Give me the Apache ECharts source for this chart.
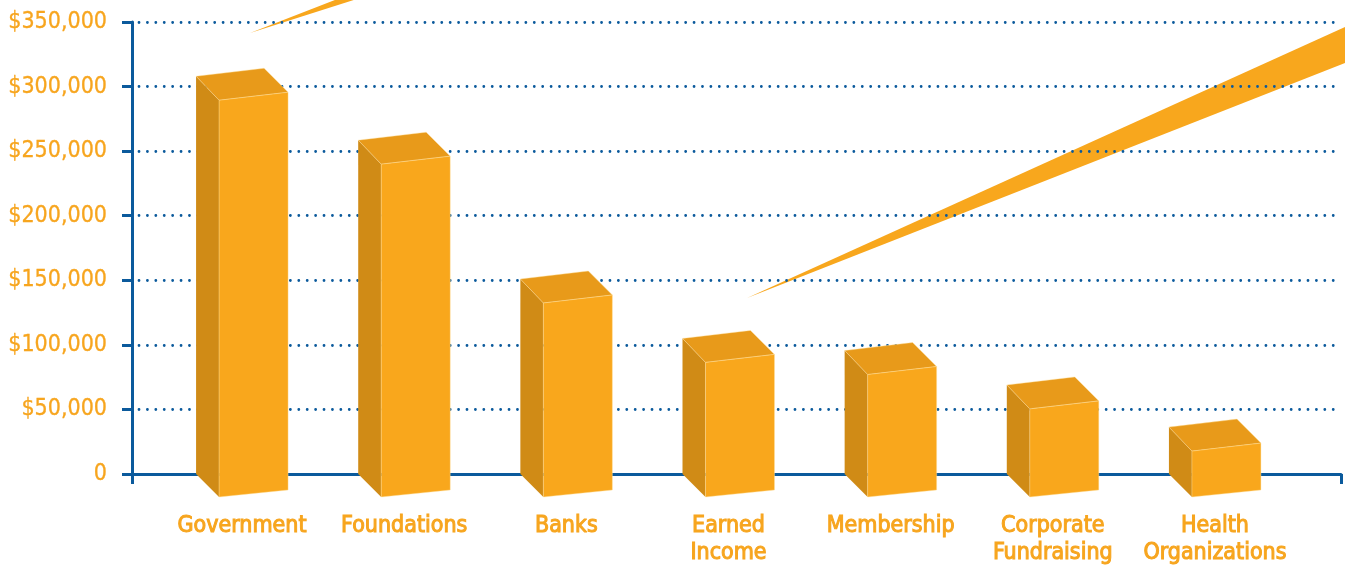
<!DOCTYPE html>
<html>
<head>
<meta charset="utf-8">
<title>Funding sources</title>
<script src="https://cdn.jsdelivr.net/npm/echarts@6/dist/echarts.min.js"></script>
<style>
  html, body { margin: 0; padding: 0; background: #ffffff; }
  #chart { width: 1345px; height: 566px; }
</style>
</head>
<body>
<div id="chart"></div>
<script>
  // data
  const categories = ['Government', 'Foundations', 'Banks', 'Earned\nIncome', 'Membership', 'Corporate\nFundraising', 'Health\nOrganizations']
  const amounts = [308000, 258500, 151000, 105000, 95600, 69000, 36300]
  const yTickLabels = ['0', '$50,000', '$100,000', '$150,000', '$200,000', '$250,000', '$300,000', '$350,000']
  const yStep = 50000
  const yMax = 350000

  const orange = '#F7A51E'
  const blue = '#0B5A9C'
  const font = "'DejaVu Sans Condensed', 'Liberation Sans Narrow', sans-serif"

  // 3d box: back face sits on the value, front face shifted down-right
  function renderBox(params, api) {
    const top = api.coord([api.value(0), api.value(1)])
    const base = api.coord([api.value(0), 0])
    const cx = top[0]
    const yt = top[1]
    const yb = base[1]
    const edge = 'rgba(255,225,160,0.7)'
    return {
      type: 'group',
      children: [
        {
          type: 'polygon',
          shape: { points: [[cx - 46, yt], [cx - 23, yt + 24], [cx - 23, yb + 23], [cx - 46, yb]] },
          style: { fill: '#D08B16' }
        },
        {
          type: 'polygon',
          shape: { points: [[cx - 46, yt], [cx + 22, yt - 8], [cx + 46, yt + 16], [cx - 23, yt + 24]] },
          style: { fill: '#E89A1A', stroke: edge, lineWidth: 0.6 }
        },
        {
          type: 'polygon',
          shape: { points: [[cx - 23, yt + 24], [cx + 46, yt + 16], [cx + 46, yb + 16], [cx - 23, yb + 23]] },
          style: { fill: '#F9A71C', stroke: edge, lineWidth: 0.6 }
        }
      ]
    }
  }

  const option = {
    animation: false,
    backgroundColor: '#ffffff',
    grid: [
      { left: 132, right: 4, top: 22, bottom: 92, outerBoundsMode: 'none', containLabel: false },
      { left: 161, right: 49, top: 22, bottom: 92, outerBoundsMode: 'none', containLabel: false }
    ],
    graphic: {
      elements: [
        {
          type: 'polygon', z: -1,
          shape: { points: [[250, 33], [340, -2], [360, -2]] },
          style: { fill: '#F8A71D' }
        },
        {
          type: 'polygon', z: -1,
          shape: { points: [[747, 298], [1345, 27], [1345, 63]] },
          style: { fill: '#F8A71D' }
        }
      ]
    },
    xAxis: [
      {
        type: 'value',
        gridIndex: 0,
        min: 0,
        max: 1,
        interval: 1,
        axisLine: { show: true, lineStyle: { color: blue, width: 3 } },
        axisTick: { show: true, length: 10, lineStyle: { color: blue, width: 3 } },
        axisLabel: { show: false },
        splitLine: { show: false }
      },
      {
        type: 'category',
        gridIndex: 1,
        data: categories,
        axisLine: { show: false },
        axisTick: { show: false },
        axisLabel: {
          interval: 0,
          margin: 39,
          color: orange,
          fontFamily: font,
          fontSize: 23,
          lineHeight: 27,
          textBorderColor: orange,
          textBorderWidth: 1
        }
      }
    ],
    yAxis: [
      {
        type: 'value',
        gridIndex: 0,
        min: 0,
        max: yMax,
        interval: yStep,
        axisLine: { show: true, lineStyle: { color: blue, width: 3 } },
        axisTick: { show: true, length: 10, lineStyle: { color: blue, width: 3 } },
        axisLabel: {
          margin: 25,
          color: orange,
          fontFamily: font,
          fontSize: 23,
          textBorderColor: orange,
          textBorderWidth: 0.3,
          formatter: v => yTickLabels[Math.round(v / yStep)]
        },
        splitLine: {
          show: true,
          lineStyle: { color: blue, width: 2.8, type: [0.01, 8.4], cap: 'round', dashOffset: -7 }
        }
      },
      {
        type: 'value',
        gridIndex: 1,
        min: 0,
        max: yMax,
        interval: yStep,
        show: false
      }
    ],
    series: [
      {
        type: 'custom',
        xAxisIndex: 1,
        yAxisIndex: 1,
        renderItem: renderBox,
        data: amounts.map((v, i) => [i, v])
      }
    ]
  }

  const myChart = echarts.init(document.getElementById('chart'))
  myChart.setOption(option, true)
</script>
</body>
</html>
